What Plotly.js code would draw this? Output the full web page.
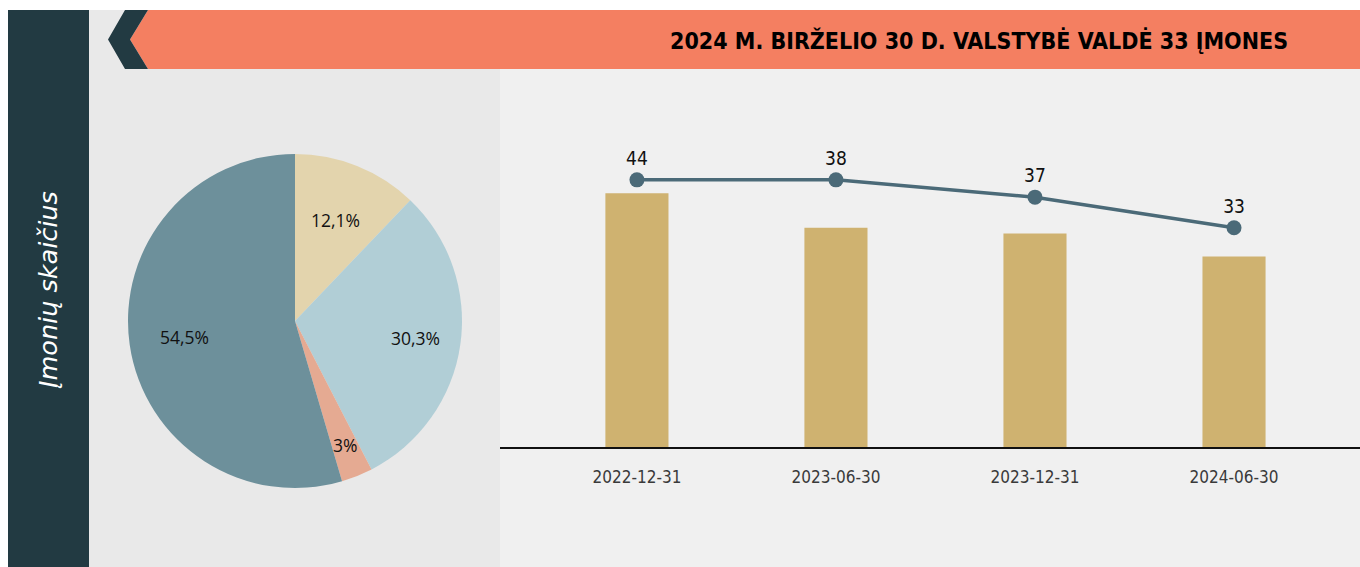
<!DOCTYPE html>
<html>
<head>
<meta charset="utf-8">
<script src="https://cdn.plot.ly/plotly-3.0.1.min.js"></script>
<style>html,body{margin:0;padding:0;background:#fff;}#chart{width:1360px;height:567px;}</style>
</head>
<body>
<div id="chart"></div>
<script>
// ---- data ----
var pieValues = [4, 10, 1, 18];
var pieColors = ['#e3d4ad', '#b1ced6', '#e5aa92', '#6d909b'];
var pieLabelRadius = [0.65, 0.73, 0.80, 0.67];
var dates = ['2022-12-31', '2023-06-30', '2023-12-31', '2024-06-30'];
var companyCounts = [44, 38, 37, 33];
var lineLevel = [46.3, 46.3, 43.3, 38.0];
var titleText = '2024 M. BIRŽELIO 30 D. VALSTYBĖ VALDĖ 33 ĮMONES';
var sideText = 'Įmonių skaičius';

var W = 1360, H = 567;
function fx(p) { return p / W; }
function fy(p) { return 1 - p / H; }
function path(pts) {
  return 'M' + pts.map(function (p) { return fx(p[0]) + ',' + fy(p[1]); }).join(' L') + ' Z';
}

var total = pieValues.reduce(function (a, b) { return a + b; }, 0);
var pieText = pieValues.map(function (v) {
  return (v / total * 100).toFixed(1).replace(/\.0$/, '').replace('.', ',') + '%';
});

// pie geometry (pixels)
var pieX0 = 128, pieX1 = 462, pieY0 = 154, pieY1 = 488;
var pcx = (pieX0 + pieX1) / 2, pcy = (pieY0 + pieY1) / 2, pr = (pieX1 - pieX0) / 2;

var pie = {
  type: 'pie',
  values: pieValues,
  labels: ['a', 'b', 'c', 'd'],
  textinfo: 'none',
  sort: false,
  direction: 'clockwise',
  rotation: 0,
  marker: { colors: pieColors, line: { width: 0 } },
  domain: { x: [fx(pieX0), fx(pieX1)], y: [fy(pieY1), fy(pieY0)] },
  showlegend: false,
  hoverinfo: 'none'
};

var bars = {
  type: 'bar',
  x: dates,
  y: companyCounts,
  marker: { color: '#cfb270' },
  width: 0.317,
  showlegend: false,
  hoverinfo: 'none'
};

var line = {
  type: 'scatter',
  mode: 'lines+markers+text',
  x: dates,
  y: lineLevel,
  text: companyCounts.map(String),
  textposition: 'top center',
  textfont: { family: 'DejaVu Sans Condensed, sans-serif', size: 19, color: '#111' },
  line: { color: '#4b6a78', width: 3.5 },
  marker: { color: '#4b6a78', size: 15 },
  showlegend: false,
  hoverinfo: 'none',
  cliponaxis: false
};

var annotations = [
  { xref: 'paper', yref: 'paper', x: fx(1290), y: fy(41), xanchor: 'right', yanchor: 'middle',
    text: '<b>' + titleText + '</b>', showarrow: false,
    font: { family: 'DejaVu Sans Condensed, sans-serif', size: 23, color: '#000' } },
  { xref: 'paper', yref: 'paper', x: fx(48), y: fy(290), xanchor: 'center', yanchor: 'middle',
    text: '<i>' + sideText + '</i>', textangle: -90, showarrow: false,
    font: { family: 'DejaVu Sans, sans-serif', size: 25.5, color: '#ffffff' } }
];

// pie labels placed along each slice's mid-angle
var cum = 0;
pieValues.forEach(function (v, i) {
  var mid = (cum + v / 2) / total * 2 * Math.PI;
  cum += v;
  var r = pr * pieLabelRadius[i];
  var px = pcx + r * Math.sin(mid);
  var py = pcy - r * Math.cos(mid);
  annotations.push({
    xref: 'paper', yref: 'paper', x: fx(px), y: fy(py), xanchor: 'center', yanchor: 'middle',
    text: pieText[i], showarrow: false,
    font: { family: 'Open Sans, sans-serif', size: 17.5, color: '#111' }
  });
});

var layout = {
  width: W, height: H,
  margin: { l: 0, r: 0, t: 0, b: 0 },
  paper_bgcolor: '#ffffff',
  plot_bgcolor: 'rgba(0,0,0,0)',
  xaxis: {
    domain: [fx(500), 1],
    type: 'category',
    range: [-0.688, 3.633],
    showgrid: false, zeroline: false,
    showline: true, linecolor: '#111', linewidth: 1.5,
    ticks: '',
    ticklabelstandoff: 14,
    tickfont: { family: 'DejaVu Sans Condensed, sans-serif', size: 17, color: '#3a3a3a' },
    fixedrange: true
  },
  yaxis: {
    domain: [fy(447), fy(100)],
    range: [0, 60.14],
    visible: false,
    fixedrange: true
  },
  shapes: [
    { type: 'rect', xref: 'paper', yref: 'paper', x0: fx(8), x1: fx(89), y0: fy(567), y1: fy(10), fillcolor: '#223a42', line: { width: 0 }, layer: 'below' },
    { type: 'rect', xref: 'paper', yref: 'paper', x0: fx(89), x1: fx(500), y0: fy(567), y1: fy(10), fillcolor: '#e9e9e9', line: { width: 0 }, layer: 'below' },
    { type: 'rect', xref: 'paper', yref: 'paper', x0: fx(500), x1: 1, y0: fy(567), y1: fy(69), fillcolor: '#f0f0f0', line: { width: 0 }, layer: 'below' },
    { type: 'path', xref: 'paper', yref: 'paper', path: path([[148, 10], [1360, 10], [1360, 69], [148, 69], [130, 39.5]]), fillcolor: '#f47f61', line: { width: 0 }, layer: 'below' },
    { type: 'path', xref: 'paper', yref: 'paper', path: path([[125, 10], [148, 10], [130, 39.5], [148, 69], [125, 69], [108, 39.5]]), fillcolor: '#223a42', line: { width: 0 }, layer: 'below' }
  ],
  annotations: annotations
};

Plotly.newPlot('chart', [pie, bars, line], layout, { displayModeBar: false, staticPlot: true });
</script>
</body>
</html>
